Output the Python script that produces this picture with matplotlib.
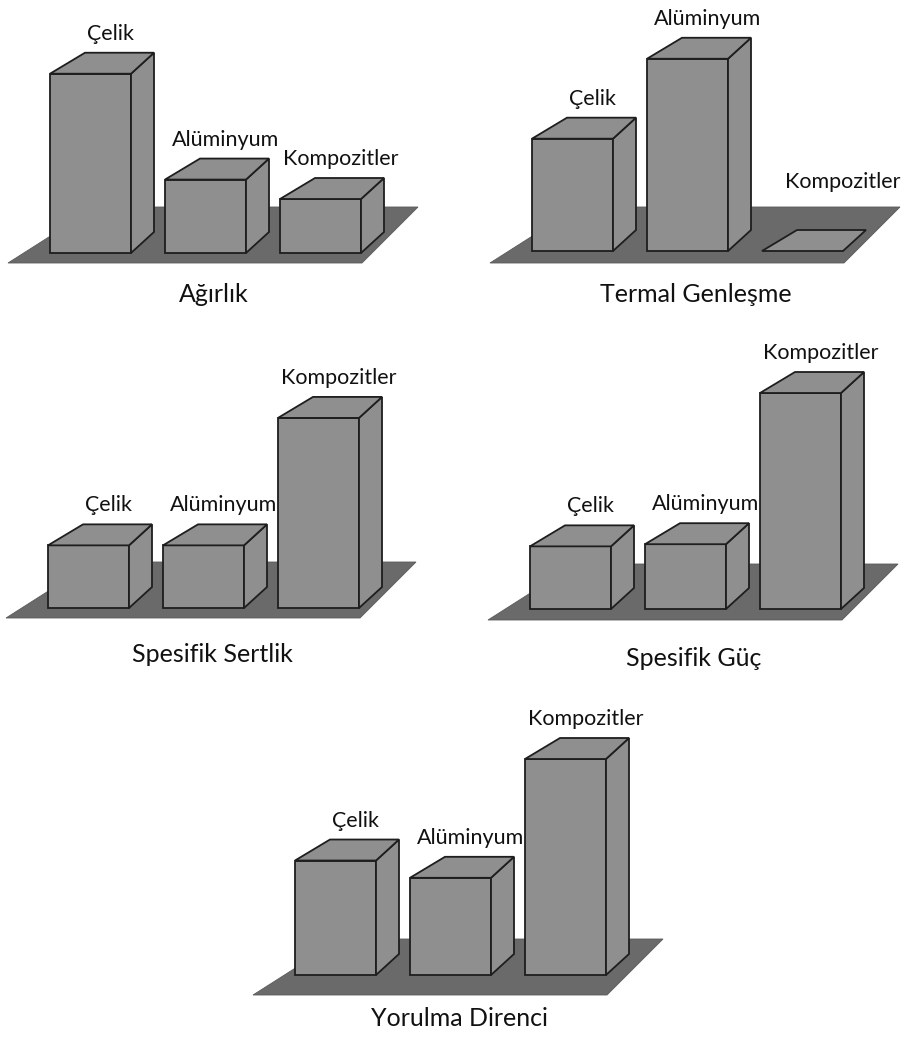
import matplotlib.pyplot as plt
from matplotlib.patches import Polygon

plt.rcParams['font.family'] = ['Lato', 'DejaVu Sans']

materials = ["Çelik", "Alüminyum", "Kompozitler"]
titles = ["Ağırlık", "Termal Genleşme", "Spesifik Sertlik", "Spesifik Güç", "Yorulma Direnci"]

# relative scores, tallest bar = 100
agirlik = [83, 34, 25]
termal = [52, 89, 0]
sertlik = [29, 29, 88]
guc = [29, 30, 100]
yorulma = [53, 45, 100]
values = [agirlik, termal, sertlik, guc, yorulma]

W, H = 909, 1037
PX = 2.16                      # pixels per value unit

# front-left floor corner (x) and bar baseline (y from top) of each panel
anchors = [(8, 253), (490, 251), (6, 608), (488, 609), (253, 975)]
floor_gap = [10, 12, 10, 11, 20]
title_gap = [32, 32, 37, 38, 23]

FACE = '#8f8f8f'
FLOOR = '#6a6a6a'
EDGE = '#1e1e1e'

BAR_X0, BAR_STEP, BAR_W = 42, 115, 81
BACK_L, BACK_R, DEPTH = 35, 23, 21     # oblique offsets of the back edges, px

fig = plt.figure(figsize=(W / 100, H / 100), dpi=100)

L, R, B, T = -20, 440, -70, 250


def poly(ax, pts, fc, ec, lw):
    ax.add_patch(Polygon([(x, y / PX) for x, y in pts], closed=True,
                         facecolor=fc, edgecolor=ec, linewidth=lw,
                         joinstyle='miter'))


for k, (vals, title) in enumerate(zip(values, titles)):
    ox, oy = anchors[k]
    ax = fig.add_axes([(ox + L) / W, (H - oy + B) / H, (R - L) / W, (T - B) / H])
    ax.set_xlim(L, R)
    ax.set_ylim(B / PX, T / PX)
    ax.axis('off')

    # floor plate (slightly tapered towards the back)
    g = floor_gap[k]
    poly(ax, [(0, -g), (354, -g), (410, 56 - g), (88, 56 - g)], FLOOR, '#5a5a5a', 0.6)

    for i, v in enumerate(vals):
        x0 = BAR_X0 + i * BAR_STEP
        x1 = x0 + BAR_W
        h = v * PX
        if h > 0:
            poly(ax, [(x0, 0), (x1, 0), (x1, h), (x0, h)], FACE, EDGE, 1.3)
            poly(ax, [(x1, 0), (x1 + BACK_R, DEPTH), (x1 + BACK_R, h + DEPTH), (x1, h)],
                 FACE, EDGE, 1.3)
        poly(ax, [(x0, h), (x1, h), (x1 + BACK_R, h + DEPTH), (x0 + BACK_L, h + DEPTH)],
             FACE, EDGE, 1.3)
        ly = max(h + DEPTH + 13, 63)
        lx = x0 + BAR_W / 2 + (20 if h > 0 else 40)
        ax.text(lx, ly / PX, materials[i], ha='center', va='baseline',
                fontsize=15.5, color='#111111', clip_on=False)

    ax.text(176 + 30, (-g - title_gap[k]) / PX, title, ha='center', va='center',
            fontsize=18, color='#111111', clip_on=False)

fig.savefig('out.png', dpi=100, facecolor='white')
